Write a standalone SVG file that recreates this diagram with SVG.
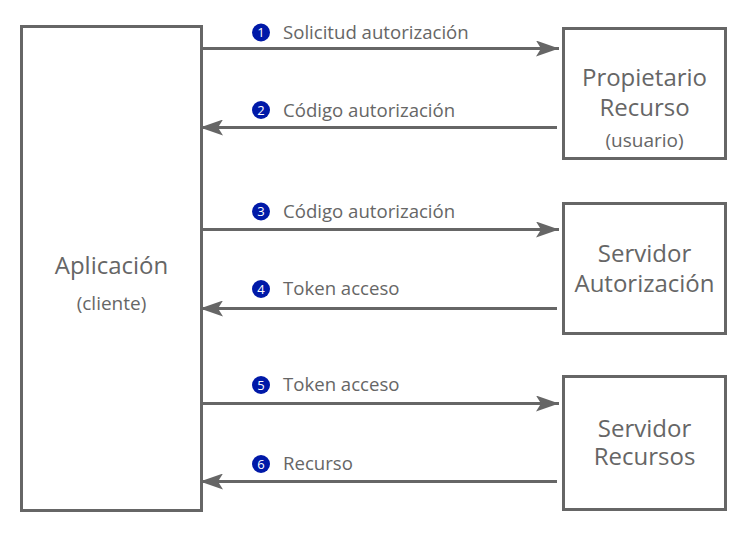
<svg xmlns="http://www.w3.org/2000/svg" width="748" height="537" viewBox="0 0 748 537">
<defs>
<style>
.box{fill:#fff;stroke:#666;stroke-width:3}
.conn{stroke:#666;stroke-width:3;fill:none}
.t{font-family:"Open Sans","DejaVu Sans",sans-serif;fill:#666;text-anchor:middle}
.big{font-size:24px}
.small{font-size:19px}
.lbl{font-family:"Open Sans","DejaVu Sans",sans-serif;fill:#666;font-size:18.6px}
.num{fill:#0019a8}
.nt{font-family:"Open Sans","DejaVu Sans",sans-serif;fill:#fff;font-size:13px;text-anchor:middle}
</style>
<marker id="ah" viewBox="0 0 23 16" refX="23" refY="8" markerWidth="23" markerHeight="16" markerUnits="userSpaceOnUse" orient="auto">
<path d="M0,0 L23,8 L0,16 L5,8 Z" fill="#666"/>
</marker>
</defs>
<rect width="748" height="537" fill="#fff"/>
<g id="app">
<rect class="box" x="21.5" y="26.5" width="180" height="484"/>
<text class="t big" x="111.5" y="274">Aplicación</text>
<text class="t small" x="111.5" y="310">(cliente)</text>
</g>
<g id="propietario">
<rect class="box" x="563.5" y="28.5" width="162" height="130"/>
<text class="t big" x="644.5" y="86">Propietario</text>
<text class="t big" x="644.5" y="116">Recurso</text>
<text class="t small" x="644.5" y="147">(usuario)</text>
</g>
<g id="autorizacion">
<rect class="box" x="563.5" y="203.5" width="162" height="130"/>
<text class="t big" x="644.5" y="262">Servidor</text>
<text class="t big" x="644.5" y="292">Autorización</text>
</g>
<g id="recursos">
<rect class="box" x="563.5" y="376.5" width="162" height="133"/>
<text class="t big" x="644.5" y="437">Servidor</text>
<text class="t big" x="644.5" y="465">Recursos</text>
</g>
<g id="connectors">
<line class="conn" x1="203" y1="48.5" x2="559" y2="48.5" marker-end="url(#ah)"/>
<line class="conn" x1="557" y1="127.5" x2="200" y2="127.5" marker-end="url(#ah)"/>
<line class="conn" x1="203" y1="229.5" x2="559" y2="229.5" marker-end="url(#ah)"/>
<line class="conn" x1="557" y1="308.5" x2="200" y2="308.5" marker-end="url(#ah)"/>
<line class="conn" x1="203" y1="403.5" x2="559" y2="403.5" marker-end="url(#ah)"/>
<line class="conn" x1="557" y1="481.5" x2="200" y2="481.5" marker-end="url(#ah)"/>
</g>
<g id="labels">
<circle class="num" cx="261" cy="32.5" r="9"/><text class="nt" x="261" y="37">1</text>
<text class="lbl" x="283" y="39">Solicitud autorización</text>
<circle class="num" cx="261" cy="110" r="9"/><text class="nt" x="261" y="114.5">2</text>
<text class="lbl" x="283" y="116.5">Código autorización</text>
<circle class="num" cx="261" cy="211.5" r="9"/><text class="nt" x="261" y="216">3</text>
<text class="lbl" x="283" y="218">Código autorización</text>
<circle class="num" cx="261" cy="289" r="9"/><text class="nt" x="261" y="293.5">4</text>
<text class="lbl" x="283" y="295">Token acceso</text>
<circle class="num" cx="261" cy="385" r="9"/><text class="nt" x="261" y="389.5">5</text>
<text class="lbl" x="283" y="391">Token acceso</text>
<circle class="num" cx="261" cy="464" r="9"/><text class="nt" x="261" y="468.5">6</text>
<text class="lbl" x="283" y="470">Recurso</text>
</g>
</svg>
